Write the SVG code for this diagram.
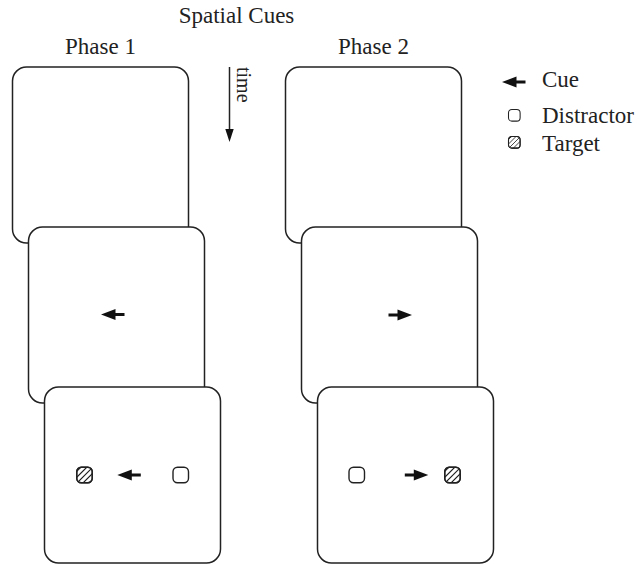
<svg xmlns="http://www.w3.org/2000/svg" xmlns:xlink="http://www.w3.org/1999/xlink" width="640" height="564" viewBox="0 0 640 564">
<style>
.card{fill:#fff;stroke:#222;stroke-width:1.5}
.box{fill:#fff;stroke:#222;stroke-width:1.4}
.hatch{stroke:#222;stroke-width:1.1;fill:none}
.arr{fill:#111}
text{font-family:"Liberation Serif","Times New Roman",serif;font-size:23px;fill:#222}
</style>
<defs>
<path id="cue" class="arr" d="M0,0 L14.5,-5.6 L14.5,-1.4 L23.5,-1.4 L23.5,1.4 L14.5,1.4 L14.5,5.6 Z"/>
<rect id="dis" class="box" x="0" y="0" width="15.5" height="15.5" rx="4.5"/>
<clipPath id="tclip"><rect x="0" y="0" width="15.5" height="15.5" rx="4.5"/></clipPath>
<g id="tgt">
<rect class="box" x="0" y="0" width="15.5" height="15.5" rx="4.5"/>
<g clip-path="url(#tclip)"><path class="hatch" d="M0,4 L4,0 M0,10 L10,0 M0,16 L16,0 M6,16 L16,6 M12,16 L16,12"/></g>
<rect x="0" y="0" width="15.5" height="15.5" rx="4.5" fill="none" stroke="#222" stroke-width="1.4"/>
</g>
</defs>

<text x="236.5" y="23" text-anchor="middle">Spatial Cues</text>
<text x="100.5" y="54" text-anchor="middle">Phase 1</text>
<text x="373.5" y="54" text-anchor="middle">Phase 2</text>

<g id="p1-card1"><rect class="card" x="12.5" y="67" width="176" height="176" rx="14"/></g>
<g id="p1-card2"><rect class="card" x="28.5" y="227" width="176" height="176" rx="14"/>
<use xlink:href="#cue" transform="translate(101,314.5)"/></g>
<g id="p1-card3"><rect class="card" x="44.5" y="387" width="176" height="176" rx="14"/>
<use xlink:href="#tgt" x="76.75" y="467.25"/>
<use xlink:href="#cue" transform="translate(117.3,475)"/>
<use xlink:href="#dis" x="173" y="467.25"/></g>

<g id="p2-card1"><rect class="card" x="285.5" y="67" width="176" height="176" rx="14"/></g>
<g id="p2-card2"><rect class="card" x="301.5" y="227" width="176" height="176" rx="14"/>
<use xlink:href="#cue" transform="translate(412,315) scale(-1,1)"/></g>
<g id="p2-card3"><rect class="card" x="317.5" y="387" width="176" height="176" rx="14"/>
<use xlink:href="#dis" x="349" y="467.25"/>
<use xlink:href="#cue" transform="translate(428.3,475) scale(-1,1)"/>
<use xlink:href="#tgt" x="444.75" y="467.25"/></g>

<g id="connectors">
<g id="time-arrow">
<line x1="229.5" y1="67" x2="229.5" y2="131" stroke="#222" stroke-width="1.5"/>
<path class="arr" d="M229.5,142 L225.3,129 L233.7,129 Z"/>
<text transform="translate(236.5,67) rotate(90)" style="font-size:20px">time</text>
</g>
</g>

<g id="legend">
<g id="legend-cue"><use xlink:href="#cue" transform="translate(502,82)"/><text x="542" y="87">Cue</text></g>
<g id="legend-distractor"><use xlink:href="#dis" transform="translate(508.5,109.5) scale(0.75)"/><text x="542" y="123">Distractor</text></g>
<g id="legend-target"><use xlink:href="#tgt" transform="translate(508.5,136.5) scale(0.75)"/><text x="542" y="151">Target</text></g>
</g>
</svg>
